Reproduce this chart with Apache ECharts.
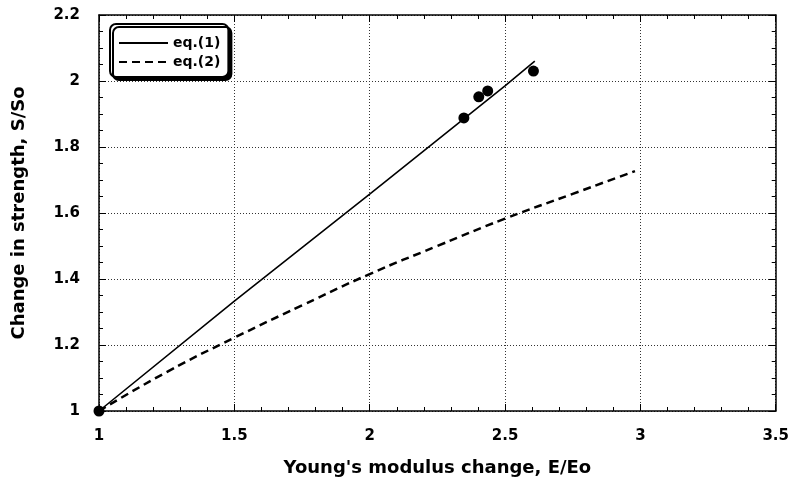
<!DOCTYPE html>
<html><head><meta charset="utf-8">
<script src="https://cdn.jsdelivr.net/npm/echarts@6/dist/echarts.min.js"></script>
<style>html,body{margin:0;padding:0;background:#fff}#c{width:792px;height:483px}</style>
</head><body><div id="c"></div>
<script>
const xTitle = "Young's modulus change, E/Eo";
const yTitle = "Change in strength, S/So";
const eq1Name = "eq.(1)";
const eq2Name = "eq.(2)";
const eq1X = [1, 1.5, 2, 2.5, 2.61];
const eq1Y = [1, 1.333, 1.657, 1.985, 2.06];
const eq2X = [1, 1.25, 1.5, 1.75, 2, 2.25, 2.5, 2.75, 2.98];
const eq2Y = [1, 1.118, 1.222, 1.32, 1.415, 1.5, 1.583, 1.658, 1.727];
const ptsX = [1, 2.348, 2.403, 2.436, 2.605];
const ptsY = [1, 1.888, 1.952, 1.97, 2.03];

const F = '"DejaVu Sans", sans-serif';
const zip = (a, b) => a.map((v, i) => [v, b[i]]);
const chart = echarts.init(document.getElementById('c'), null, {renderer: 'canvas'});
const axisBase = {
  axisLine: {show: true, onZero: false, lineStyle: {color: '#000', width: 1.5}},
  axisTick: {show: true, inside: true, length: 7, lineStyle: {color: '#000', width: 1}},
  minorTick: {show: true, length: 4, lineStyle: {color: '#000', width: 1}},
};
chart.setOption({
  animation: false,
  backgroundColor: '#fff',
  grid: {left: 99, right: 15, top: 15, bottom: 72},
  legend: {
    orient: 'vertical', left: 110, top: 24,
    data: [eq1Name, eq2Name],
    itemWidth: 49, itemHeight: 12, itemGap: 5,
    padding: [12, 8, 8, 8],
    itemStyle: {opacity: 0},
    backgroundColor: '#fff', borderColor: '#000', borderWidth: 2, borderRadius: 6,
    shadowColor: '#000', shadowBlur: 0, shadowOffsetX: 3, shadowOffsetY: 3,
    textStyle: {fontFamily: F, fontSize: 14, fontWeight: 'bold', color: '#000'}
  },
  xAxis: [
    Object.assign({}, axisBase, {
      type: 'value', min: 1, max: 3.5, interval: 0.5, position: 'bottom',
      name: xTitle, nameLocation: 'middle', nameGap: 48,
      nameTextStyle: {fontFamily: F, fontSize: 18, fontWeight: 'bold', color: '#000'},
      minorTick: Object.assign({splitNumber: 5}, axisBase.minorTick),
      axisLabel: {fontFamily: F, fontSize: 15, fontWeight: 'bold', color: '#000', margin: 18},
      splitLine: {show: true, lineStyle: {color: '#333', type: [1, 2], width: 1}}
    }),
    Object.assign({}, axisBase, {
      type: 'value', min: 1, max: 3.5, interval: 0.5, position: 'top',
      minorTick: Object.assign({splitNumber: 5}, axisBase.minorTick),
      axisLabel: {show: false}, splitLine: {show: false}
    })
  ],
  yAxis: [
    Object.assign({}, axisBase, {
      type: 'value', min: 1, max: 2.2, interval: 0.2, position: 'left',
      name: yTitle, nameLocation: 'middle', nameGap: 71, nameRotate: 90,
      nameTextStyle: {fontFamily: F, fontSize: 18, fontWeight: 'bold', color: '#000'},
      minorTick: Object.assign({splitNumber: 4}, axisBase.minorTick),
      axisLabel: {fontFamily: F, fontSize: 15, fontWeight: 'bold', color: '#000', margin: 19},
      splitLine: {show: true, lineStyle: {color: '#333', type: [1, 2], width: 1}}
    }),
    Object.assign({}, axisBase, {
      type: 'value', min: 1, max: 2.2, interval: 0.2, position: 'right',
      minorTick: Object.assign({splitNumber: 4}, axisBase.minorTick),
      axisLabel: {show: false}, splitLine: {show: false}
    })
  ],
  series: [
    {name: eq1Name, type: 'line', data: zip(eq1X, eq1Y), symbol: 'none', smooth: false,
      lineStyle: {color: '#000', width: 1.6, type: 'solid'}, itemStyle: {color: '#000'}},
    {name: eq2Name, type: 'line', data: zip(eq2X, eq2Y), symbol: 'none', smooth: true,
      lineStyle: {color: '#000', width: 2.5, type: [8, 5]}, itemStyle: {color: '#000'}},
    {name: 'data', type: 'scatter', data: zip(ptsX, ptsY), symbol: 'circle', symbolSize: 11,
      clip: false, itemStyle: {color: '#000', opacity: 1}, z: 5}
  ]
});
</script></body></html>
